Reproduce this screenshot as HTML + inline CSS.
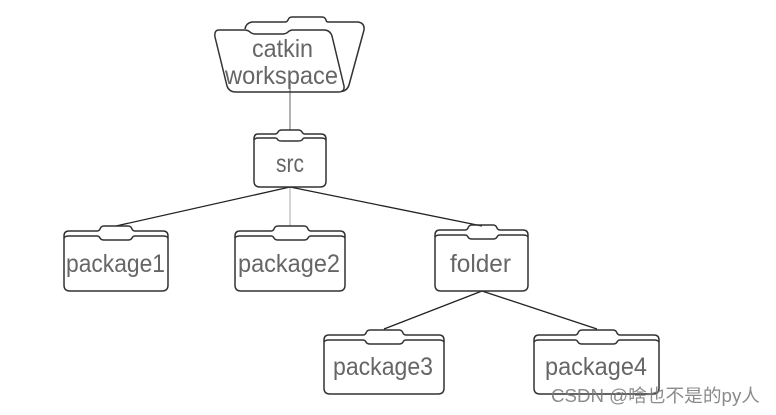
<!DOCTYPE html>
<html>
<head>
<meta charset="utf-8">
<style>
html,body{margin:0;padding:0;background:#fff;width:776px;height:415px;overflow:hidden}
svg{display:block}
.t{font-family:"Liberation Sans",sans-serif;font-size:25px;fill:#666}
.w{font-family:"Liberation Sans","Noto Sans CJK SC",sans-serif;font-size:18px;fill:#777;fill-opacity:.85}
.f{fill:none;stroke:#333;stroke-width:1.5;stroke-linejoin:round}
</style>
</head>
<body>
<svg width="776" height="415" viewBox="0 0 776 415" xmlns="http://www.w3.org/2000/svg">
<defs><filter id="b" x="-5%" y="-5%" width="110%" height="110%"><feGaussianBlur stdDeviation="0.35"/></filter></defs>
<g filter="url(#b)">
<g fill="none" stroke-width="1.3">
<line x1="290" y1="82" x2="290" y2="130" stroke="#888"/>
<line x1="290" y1="187" x2="290" y2="226" stroke="#bbb"/>
<line x1="290" y1="187" x2="116" y2="226" stroke="#222"/>
<line x1="290" y1="187" x2="482" y2="226" stroke="#222"/>
<line x1="482" y1="291" x2="384" y2="329" stroke="#222"/>
<line x1="482" y1="291" x2="597" y2="329" stroke="#222"/>
</g>

<!-- catkin workspace -->
<path class="f" d="M245 29 Q246 23 252 22 H285 Q287 22 288 20 Q289 17 292 17 H322 Q325 17 326 20 Q326 22 329 22 H358 Q365 23 364 30 L349 85 Q347 91 341 91.500"/>
<path class="f" d="M219 30 H244 Q248 30 250 32 Q252 34 256 34 H282 Q286 34 288 32 Q290 30 293 30 H324 Q330 30 332 36 L344 86 Q345 92 338 92 H236 Q229 92 227 86 L215 37 Q214 30 219 30 Z"/>

<!-- src -->
<path class="f" d="M258 134 H275 Q277 134 278 132 Q279 130 282 130 H298 Q301 130 302 132 Q303 134 305 134 H321 Q326 134 326 139 V181 Q326 187 320 187 H260 Q254 187 254 181 V139 Q254 134 258 134 Z"/>
<path class="f" d="M254 140 Q255 138 258 138 H275 Q277 138 278 140 Q279 141 282 141 H298 Q301 141 302 140 Q303 138 305 138 H321 Q325 138 326 140"/>

<!-- package1 -->
<path class="f" d="M69 231 H97 Q99 231 100 229 Q101 226 104 226 H128 Q131 226 132 229 Q133 231 135 231 H163 Q168 231 168 236 V285 Q168 291 162 291 H70 Q64 291 64 285 V236 Q64 231 69 231 Z"/>
<path class="f" d="M64 238 Q65 236 69 236 H97 Q99 236 100 238 Q101 240 104 240 H128 Q131 240 132 238 Q133 236 135 236 H163 Q167 236 168 238"/>

<!-- package2 -->
<path class="f" d="M240 231 H271 Q273 231 274 229 Q275 226 278 226 H304 Q307 226 308 229 Q309 231 311 231 H340 Q345 231 345 236 V285 Q345 291 339 291 H241 Q235 291 235 285 V236 Q235 231 240 231 Z"/>
<path class="f" d="M235 238 Q236 236 240 236 H271 Q273 236 274 238 Q275 240 278 240 H304 Q307 240 308 238 Q309 236 311 236 H340 Q344 236 345 238"/>

<!-- folder -->
<path class="f" d="M440 230 H465 Q467 230 468 228 Q469 225 472 225 H493 Q496 225 497 228 Q498 230 500 230 H523 Q528 230 528 235 V285 Q528 291 522 291 H441 Q435 291 435 285 V235 Q435 230 440 230 Z"/>
<path class="f" d="M435 237 Q436 235 440 235 H465 Q467 235 468 237 Q469 239 472 239 H493 Q496 239 497 237 Q498 235 500 235 H523 Q527 235 528 237"/>

<!-- package3 -->
<path class="f" d="M329 335 H363 Q365 335 366 333 Q367 330 370 330 H399 Q402 330 403 333 Q404 335 406 335 H439 Q444 335 444 340 V388 Q444 394 438 394 H330 Q324 394 324 388 V340 Q324 335 329 335 Z"/>
<path class="f" d="M324 342 Q325 340 329 340 H363 Q365 340 366 342 Q367 344 370 344 H399 Q402 344 403 342 Q404 340 406 340 H439 Q443 340 444 342"/>

<!-- package4 -->
<path class="f" d="M539 335 H575 Q577 335 578 333 Q579 330 582 330 H613 Q616 330 617 333 Q618 335 620 335 H654 Q659 335 659 340 V388 Q659 394 653 394 H540 Q534 394 534 388 V340 Q534 335 539 335 Z"/>
<path class="f" d="M534 342 Q535 340 539 340 H575 Q577 340 578 342 Q579 344 582 344 H613 Q616 344 617 342 Q618 340 620 340 H654 Q658 340 659 342"/>

<text class="t" x="252" y="57" textLength="61" lengthAdjust="spacingAndGlyphs">catkin</text>
<text class="t" x="225" y="84" textLength="113" lengthAdjust="spacingAndGlyphs">workspace</text>
<text class="t" x="276" y="172" textLength="28" lengthAdjust="spacingAndGlyphs">src</text>
<text class="t" x="66" y="272" textLength="99" lengthAdjust="spacingAndGlyphs">package1</text>
<text class="t" x="238" y="272" textLength="102" lengthAdjust="spacingAndGlyphs">package2</text>
<text class="t" x="450" y="272" textLength="61" lengthAdjust="spacingAndGlyphs">folder</text>
<text class="t" x="333" y="375" textLength="100" lengthAdjust="spacingAndGlyphs">package3</text>
<text class="t" x="545" y="375" textLength="102" lengthAdjust="spacingAndGlyphs">package4</text>
<text class="w" x="551" y="402" textLength="209" lengthAdjust="spacingAndGlyphs">CSDN @啥也不是的py人</text>
</g>
</svg>
</body>
</html>
